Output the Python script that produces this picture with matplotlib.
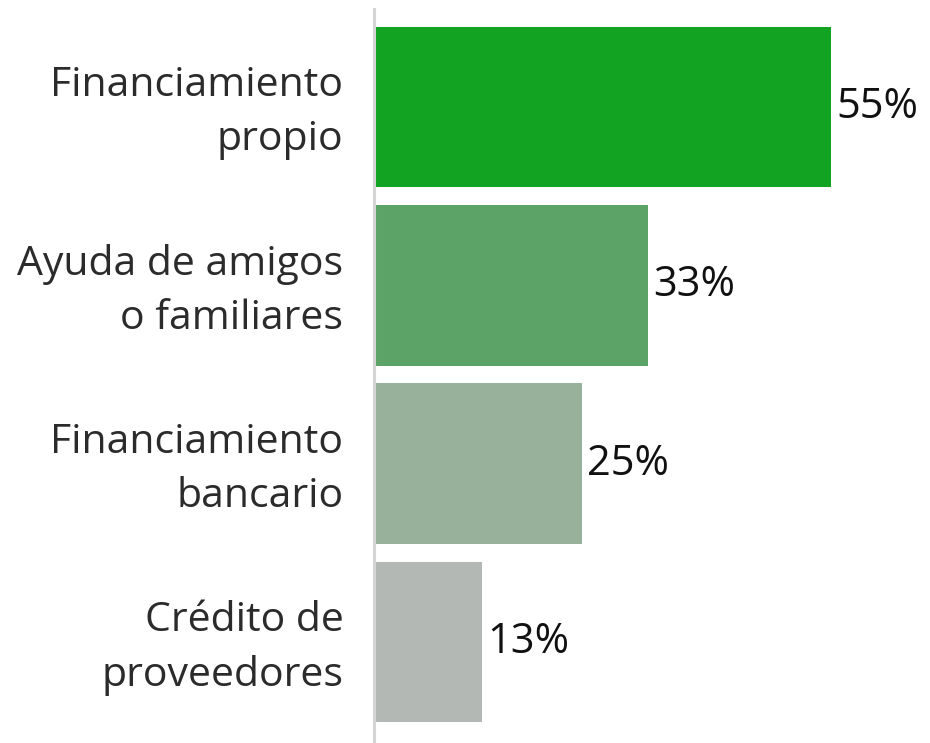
import matplotlib.pyplot as plt
from matplotlib.transforms import ScaledTranslation

categorias = ["Financiamiento\npropio", "Ayuda de amigos\no familiares",
              "Financiamiento\nbancario", "Crédito de\nproveedores"]
valores = [55, 33, 25, 13]
colores = ["#12a322", "#5ba366", "#97b19b", "#b3b8b5"]

W, H = 930, 743
fig = plt.figure(figsize=(W / 100, H / 100), dpi=100)
# ejes colocados en pixeles: izquierda 374, arriba 9, abajo 743
ax = fig.add_axes([374 / W, 0, (914 - 374) / W, (743 - 9) / H])

pos = list(range(len(valores)))
ax.barh(pos, valores, height=0.9, color=colores)
ax.set_xlim(0, 65)
ax.set_ylim(3.567, -0.55)

for p, v in zip(pos, valores):
    ax.text(v + 0.6, p, f"{v}%", va="center", ha="left",
            fontsize=30, color="#111111", family="Open Sans")

ax.set_yticks(pos)
ax.set_yticklabels(categorias, fontsize=29.5, color="#2b2b2b",
                   family="Open Sans", linespacing=1.45)
ax.tick_params(axis="y", length=0, pad=22)
ax.set_xticks([])

# subir un poco las etiquetas de dos lineas
subir = ScaledTranslation(0, 6 / 100, fig.dpi_scale_trans)
for lab in ax.get_yticklabels():
    lab.set_transform(lab.get_transform() + subir)

for lado in ["top", "right", "bottom"]:
    ax.spines[lado].set_visible(False)
ax.spines["left"].set_color("#d4d4d4")
ax.spines["left"].set_linewidth(2.2)

fig.savefig("out.png", dpi=100)
